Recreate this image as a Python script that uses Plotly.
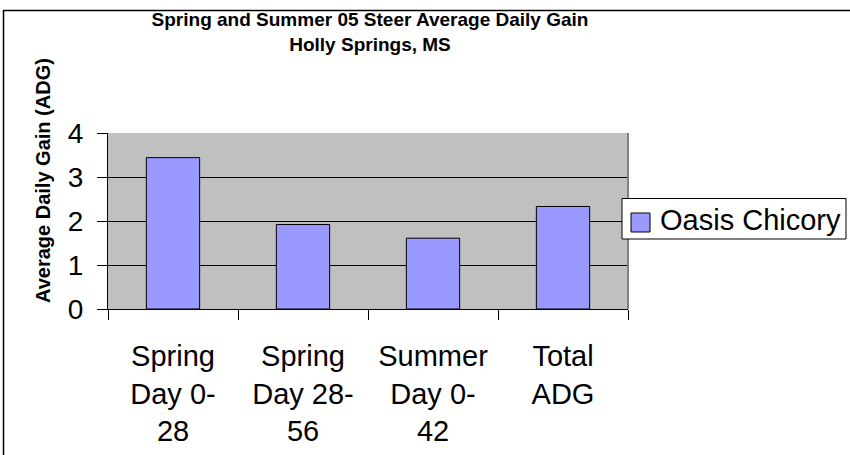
import plotly.graph_objects as go

categories = ["Spring<br>Day 0-<br>28", "Spring<br>Day 28-<br>56", "Summer<br>Day 0-<br>42", "Total<br>ADG"]
series_name = "Oasis Chicory"
adg_values = [3.44, 1.92, 1.61, 2.33]
y_ticks = [0, 1, 2, 3, 4]

FONT = "Liberation Sans, Arial, sans-serif"
BAR_COLOR = "#9999FF"

W, H = 850, 455
L, R, T, B = 108, 628, 133, 309


def px_x(px):
    return (px - L) / (R - L)


def px_y(py):
    return (B - py) / (B - T)


fig = go.Figure()
fig.add_trace(go.Bar(
    x=categories, y=adg_values, name=series_name,
    marker=dict(color=BAR_COLOR, line=dict(color="black", width=1)),
    showlegend=False,
))

fig.update_layout(
    width=W, height=H,
    margin=dict(l=L, r=W - R, t=T, b=H - B, pad=0, autoexpand=False),
    paper_bgcolor="white",
    plot_bgcolor="#C0C0C0",
    bargap=0.59,
    font=dict(family=FONT, color="black", size=29),
    title=dict(
        text="<b>Spring and Summer 05 Steer Average Daily Gain<br>Holly Springs, MS</b>",
        x=370 / W, xanchor="center", xref="container",
        y=1 - 26 / H, yanchor="middle", yref="container",
        font=dict(family=FONT, size=19, color="black"),
    ),
    showlegend=False,
    xaxis=dict(
        showline=True, linecolor="black", linewidth=1,
        ticks="outside", ticklen=10, tickcolor="black", tickson="boundaries",
        ticklabelstandoff=21,
        tickfont=dict(family=FONT, size=29, color="black"),
        showgrid=False,
    ),
    yaxis=dict(
        range=[0, 4], tickvals=y_ticks, ticktext=[str(v) for v in y_ticks],
        showline=True, linecolor="black", linewidth=1,
        ticks="outside", ticklen=10, tickcolor="black",
        ticklabelstandoff=8,
        showgrid=True, gridcolor="black", gridwidth=1,
        zeroline=False,
        tickfont=dict(family=FONT, size=28, color="black"),
    ),
)

# plot-area border (gray) on the right side
fig.add_shape(type="line", xref="paper", yref="paper", x0=1, x1=1, y0=0, y1=1,
              line=dict(color="#808080", width=2))

# chart outer border (top and left edges; right/bottom fall outside the picture)
fig.add_shape(type="line", xref="paper", yref="paper",
              x0=px_x(3), x1=px_x(W + 10), y0=px_y(10.5), y1=px_y(10.5),
              line=dict(color="black", width=1.5))
fig.add_shape(type="line", xref="paper", yref="paper",
              x0=px_x(3.5), x1=px_x(3.5), y0=px_y(10), y1=px_y(H + 10),
              line=dict(color="black", width=1.5))

# legend (box, swatch, label)
fig.add_shape(type="rect", xref="paper", yref="paper",
              x0=px_x(622), x1=px_x(846), y0=px_y(239), y1=px_y(198.5),
              line=dict(color="black", width=1), fillcolor="white")
fig.add_shape(type="rect", xref="paper", yref="paper",
              x0=px_x(631), x1=px_x(650), y0=px_y(232), y1=px_y(213),
              line=dict(color="black", width=1), fillcolor=BAR_COLOR)
fig.add_annotation(
    text=series_name, xref="paper", yref="paper",
    x=px_x(658), y=px_y(220), xanchor="left", yanchor="middle",
    showarrow=False, font=dict(family=FONT, size=29, color="black"),
)

# y axis title
fig.add_annotation(
    text="<b>Average Daily Gain (ADG)</b>", textangle=-90,
    xref="paper", yref="paper", x=px_x(43), y=px_y(181),
    xanchor="center", yanchor="middle", showarrow=False,
    font=dict(family=FONT, size=20, color="black"),
)

fig.write_html("out.html", config={"displayModeBar": False},
               post_script="document.body.style.margin='0';")
